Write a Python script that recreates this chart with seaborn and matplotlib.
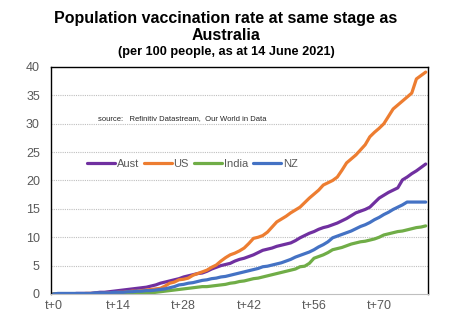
import numpy as np
import pandas as pd
import matplotlib
matplotlib.use("Agg")
import matplotlib.pyplot as plt
import seaborn as sns

days = list(range(81))
aust = [0.0,0.0,0.0,0.0,0.0,0.1,0.1,0.1,0.1,0.2,
        0.3,0.3,0.4,0.5,0.6,0.7,0.8,0.9,1.0,1.1,
        1.2,1.4,1.6,1.9,2.1,2.3,2.5,2.7,3.0,3.2,
        3.4,3.6,3.7,4.0,4.4,4.7,5.0,5.2,5.4,5.8,
        6.1,6.3,6.6,6.9,7.3,7.7,7.9,8.1,8.4,8.6,
        8.8,9.0,9.4,9.9,10.3,10.7,11.0,11.4,11.7,11.9,
        12.2,12.5,12.9,13.3,13.8,14.3,14.6,14.9,15.3,16.1,
        16.9,17.4,17.9,18.3,18.7,20.1,20.6,21.2,21.7,22.3,22.9]
us = [0.0,0.0,0.0,0.0,0.0,0.0,0.0,0.1,0.1,0.1,
      0.1,0.1,0.2,0.2,0.3,0.3,0.4,0.5,0.5,0.6,
      0.7,0.8,0.9,1.0,1.4,1.9,2.1,2.5,2.6,2.8,
      3.3,3.6,3.9,4.2,4.7,5.1,5.8,6.4,6.9,7.2,
      7.6,8.1,8.9,9.8,10.0,10.3,10.9,11.8,12.7,13.2,
      13.7,14.3,14.8,15.3,16.1,16.9,17.6,18.3,19.2,19.6,
      20.0,20.6,21.8,23.1,23.8,24.5,25.4,26.3,27.7,28.5,
      29.2,30.0,31.3,32.6,33.3,34.0,34.7,35.4,37.9,38.5,39.1]
india = [0.0,0.0,0.0,0.0,0.0,0.0,0.0,0.0,0.0,0.0,
         0.0,0.0,0.0,0.0,0.1,0.1,0.1,0.1,0.1,0.2,
         0.2,0.2,0.3,0.4,0.5,0.6,0.7,0.8,0.9,1.0,
         1.1,1.2,1.3,1.3,1.4,1.5,1.6,1.7,1.9,2.0,
         2.2,2.3,2.5,2.7,2.8,3.0,3.2,3.4,3.6,3.8,
         4.0,4.2,4.4,4.8,4.9,5.4,6.3,6.6,6.9,7.3,
         7.8,8.0,8.2,8.5,8.8,9.0,9.2,9.3,9.5,9.7,
         10.0,10.4,10.6,10.8,11.0,11.1,11.3,11.5,11.7,11.8,12.0]
nz = [0.0,0.1,0.1,0.1,0.1,0.1,0.1,0.1,0.1,0.2,
      0.2,0.2,0.2,0.3,0.3,0.3,0.4,0.4,0.5,0.5,
      0.6,0.6,0.7,0.8,0.9,1.1,1.3,1.6,1.7,1.9,
      2.0,2.2,2.4,2.5,2.7,2.8,3.0,3.1,3.3,3.5,
      3.7,3.9,4.1,4.3,4.5,4.8,4.9,5.1,5.3,5.5,
      5.8,6.1,6.5,6.8,7.1,7.4,7.8,8.3,8.7,9.2,
      9.9,10.2,10.5,10.8,11.1,11.5,11.9,12.2,12.6,13.1,
      13.5,14.0,14.4,14.9,15.3,15.7,16.2,16.2,16.2,16.2,16.2]
series_names = ["Aust", "US", "India", "NZ"]
colors = ["#7030A0", "#ED7D31", "#70AD47", "#4472C4"]
tick_days = [0, 14, 28, 42, 56, 70]
tick_labels = ["t+0", "t+14", "t+28", "t+42", "t+56", "t+70"]

df = pd.DataFrame({
    "day": days * 4,
    "value": aust + us + india + nz,
    "country": sum([[n] * len(days) for n in series_names], []),
})

sns.set_theme(style="white")
plt.rcParams["font.family"] = ["Liberation Sans", "DejaVu Sans"]

fig = plt.figure(figsize=(4.52, 3.23), dpi=100)
ax = fig.add_axes([0.1128, 0.0898, 0.947 - 0.1128, 0.7926 - 0.0898])

sns.lineplot(data=df, x="day", y="value", hue="country", palette=dict(zip(series_names, colors)),
             hue_order=series_names, linewidth=2.3, ax=ax)

ax.set_xlim(-0.5, 80.5)
ax.set_ylim(0, 40)
ax.set_yticks(range(0, 41, 5))
ax.set_xticks(tick_days)
ax.set_xticklabels(tick_labels)
ax.set_xticks(np.arange(-0.5, 81, 1), minor=True)
ax.tick_params(axis="both", which="major", length=0, labelsize=9, labelcolor="#595959")
ax.tick_params(axis="x", which="major", pad=4)
ax.tick_params(axis="y", which="major", pad=8)
ax.tick_params(axis="x", which="minor", length=3, width=0.6, color="#BFBFBF", direction="out")
ax.set_xlabel("")
ax.set_ylabel("")
for y in range(5, 40, 5):
    ax.axhline(y, color="#BFBFBF", lw=0.8, ls=(0, (1, 1)), zorder=0)

for s in ["left", "right", "top"]:
    ax.spines[s].set_color("black")
    ax.spines[s].set_linewidth(1.0)
ax.spines["bottom"].set_color("#BFBFBF")
ax.spines["bottom"].set_linewidth(0.8)

ax.text(0.125, 0.772, "source:   Refinitiv Datastream,  Our World in Data", transform=ax.transAxes,
        fontsize=5.5, color="#262626", va="center", ha="left")

leg = ax.legend(loc="center left", bbox_to_anchor=(0.095, 0.573), ncol=4, frameon=False,
                fontsize=8, handlelength=2.5, handletextpad=0.18, columnspacing=0.45,
                borderpad=0, borderaxespad=0)
for t in leg.get_texts():
    t.set_color("#595959")

fig.text(0.5, 1 - 19 / 323, "Population vaccination rate at same stage as", ha="center", va="center",
         fontsize=11.5, fontweight="bold", color="black")
fig.text(0.5, 1 - 36 / 323, "Australia", ha="center", va="center",
         fontsize=11.5, fontweight="bold", color="black")
fig.text(0.5, 1 - 52 / 323, "(per 100 people, as at 14 June 2021)", ha="center", va="center",
         fontsize=9.2, fontweight="bold", color="black")

fig.savefig("out.png", dpi=100)
